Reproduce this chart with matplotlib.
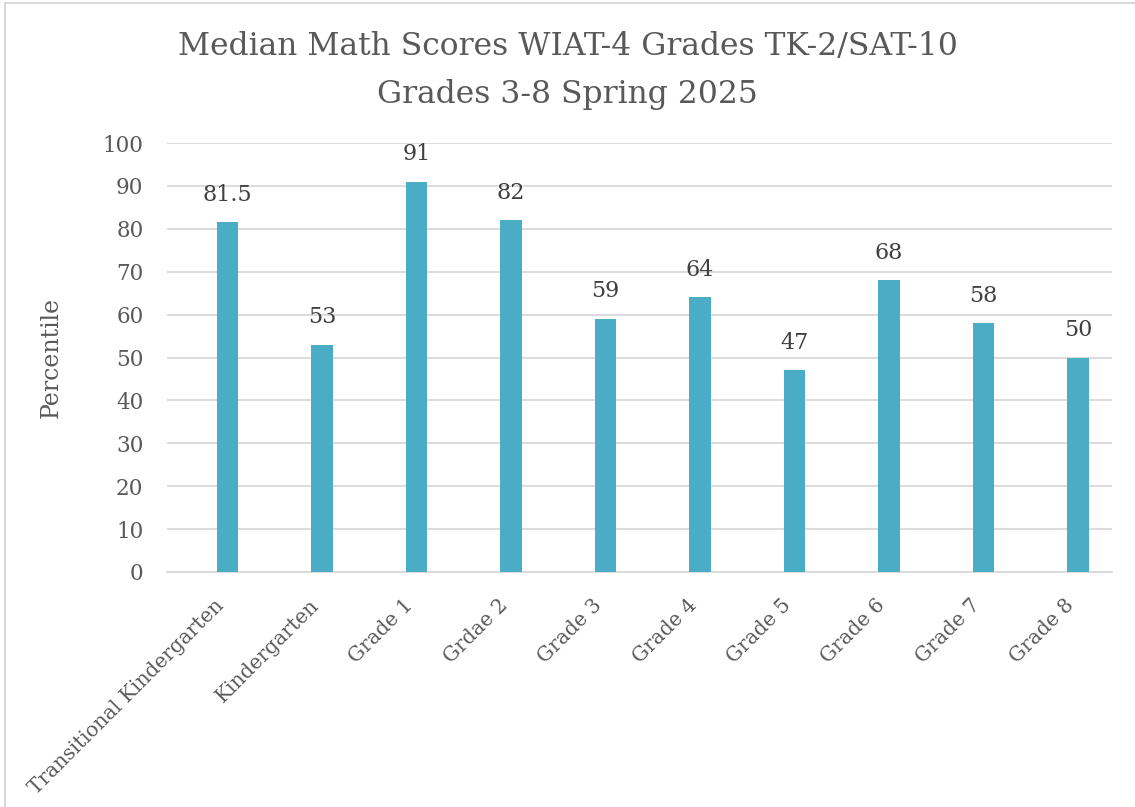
import matplotlib
matplotlib.use('Agg')
import matplotlib.pyplot as plt
from matplotlib.patches import Rectangle

categories = ['Transitional Kindergarten', 'Kindergarten', 'Grade 1', 'Grdae 2', 'Grade 3',
              'Grade 4', 'Grade 5', 'Grade 6', 'Grade 7', 'Grade 8']
scores = [81.5, 53, 91, 82, 59, 64, 47, 68, 58, 50]
score_labels = ['81.5', '53', '91', '82', '59', '64', '47', '68', '58', '50']
y_ticks = [0, 10, 20, 30, 40, 50, 60, 70, 80, 90, 100]

plt.rcParams['font.family'] = ['DejaVu Serif']
text_color = '#595959'

W, H = 1135, 807
fig = plt.figure(figsize=(W / 100, H / 100), dpi=100)
ax = fig.add_axes([167 / W, 1 - 572 / H, (1112 - 167) / W, (572 - 143) / H])

# excel-style clustered bars sit a bit right of the category centre
x = list(range(len(categories)))
bar_x = [i + 0.14 for i in x]
bars = ax.bar(bar_x, scores, width=0.229, color='#4BACC6', zorder=3)
for b, lab in zip(bars, score_labels):
    ax.annotate(lab, (b.get_x() + b.get_width() / 2, b.get_height()),
                xytext=(0, 12), textcoords='offset points', ha='center', va='bottom',
                fontsize=16, color='#404040')

ax.set_xlim(-0.5, len(categories) - 0.5)
ax.set_ylim(0, 100)
ax.set_yticks(y_ticks)
ax.yaxis.grid(True, color='#D9D9D9', linewidth=1.3, zorder=0)
ax.tick_params(axis='y', length=0, labelsize=15.5, labelcolor=text_color, pad=17)
ax.tick_params(axis='x', length=0, labelsize=14.5, labelcolor=text_color, pad=17)
ax.set_xticks(x)
ax.set_xticklabels(categories, rotation=45, ha='right', rotation_mode='anchor')
for s in ['top', 'right', 'left']:
    ax.spines[s].set_visible(False)
ax.spines['bottom'].set_color('#D9D9D9')
ax.spines['bottom'].set_linewidth(1.3)

ax.set_ylabel('Percentile', fontsize=17, color=text_color)
ax.yaxis.set_label_coords(-(167 - 63) / (1112 - 167), 0.5)

fig.text(0.5, 1 - 47 / H, 'Median Math Scores WIAT-4 Grades TK-2/SAT-10', ha='center', va='center',
         fontsize=22.6, color=text_color)
fig.text(0.5, 1 - 95 / H, 'Grades 3-8 Spring 2025', ha='center', va='center',
         fontsize=22.6, color=text_color)

fig.patches.append(Rectangle((5 / W, -0.01), 1.02, 1 - 3 / H + 0.01, transform=fig.transFigure,
                             fill=False, edgecolor='#D9D9D9', linewidth=1.5))

fig.savefig('out.png', dpi=100)
